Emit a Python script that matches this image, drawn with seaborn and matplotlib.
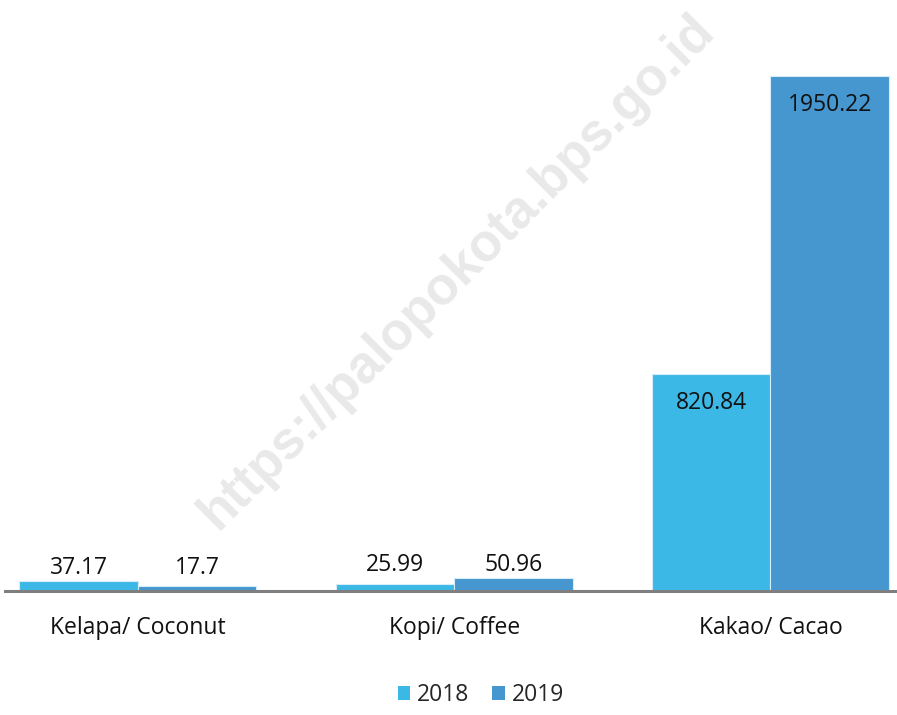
import pandas as pd
import seaborn as sns
import matplotlib.pyplot as plt

# production by commodity (ton)
commodities = ["Kelapa/ Coconut", "Kopi/ Coffee", "Kakao/ Cacao"]
years = ["2018", "2019"]
prod_2018 = [37.17, 25.99, 820.84]
prod_2019 = [17.7, 50.96, 1950.22]

df = pd.DataFrame({
    "commodity": commodities * 2,
    "year": [years[0]] * 3 + [years[1]] * 3,
    "value": prod_2018 + prod_2019,
})

sns.set_theme(style="white")
plt.rcParams["font.family"] = ["Open Sans", "DejaVu Sans"]

fig = plt.figure(figsize=(8.97, 7.15), dpi=100)
ax = fig.add_axes([5 / 897, 124 / 715, 892 / 897, 591 / 715])

palette = {"2018": "#3cb8e6", "2019": "#4696cf"}
sns.barplot(data=df, x="commodity", y="value", hue="year", palette=palette,
            width=0.75, gap=0, edgecolor="#d6ecf8", linewidth=0.8,
            saturation=1, ax=ax)

ax.set_xlim(-0.42, 2.40)
ax.set_ylim(0, 2238)

# value labels: small bars above the group, tall bars inside near the top
group_max = [max(a, b) for a, b in zip(prod_2018, prod_2019)]
for cont in ax.containers:
    for i, bar in enumerate(cont):
        h = bar.get_height()
        x = bar.get_x() + bar.get_width() / 2
        if h > 500:
            ax.annotate(f"{h:g}", (x, h), xytext=(0, -12), textcoords="offset points",
                        ha="center", va="top", fontsize=16.5, color="#111111")
        else:
            ax.annotate(f"{h:g}", (x, group_max[i]), xytext=(0, 0.5), textcoords="offset points",
                        ha="center", va="bottom", fontsize=16.5, color="#111111")

ax.set_xlabel("")
ax.set_ylabel("")
ax.set_yticks([])
ax.tick_params(axis="x", labelsize=16.5, pad=18, length=0, colors="#111111")
for s in ["top", "left", "right"]:
    ax.spines[s].set_visible(False)
ax.spines["bottom"].set_color("#7f7f7f")
ax.spines["bottom"].set_linewidth(2.2)

leg = ax.legend(loc="center", bbox_to_anchor=(481 / 897, 20 / 715), bbox_transform=fig.transFigure,
                ncol=2, frameon=False, fontsize=16.5, handlelength=0.55, handleheight=0.55,
                handletextpad=0.3, columnspacing=1.0)
for h in leg.legend_handles:
    h.set_edgecolor("none")

# watermark
fig.text(457 / 897, 443 / 715, "https://palopokota.bps.go.id", rotation=45,
         ha="center", va="center", fontsize=38, fontweight="bold",
         family=["Liberation Sans", "DejaVu Sans"], color="#c8c8c8", alpha=0.4, zorder=10)

fig.savefig("out.png", dpi=100)
